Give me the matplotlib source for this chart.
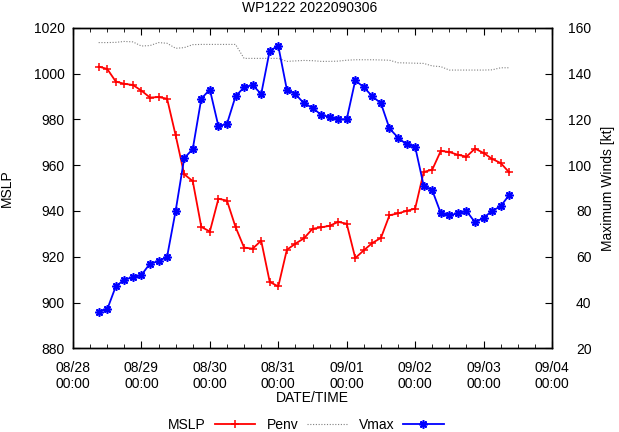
import numpy as np
import pandas as pd
import matplotlib
matplotlib.use('Agg')
import matplotlib.pyplot as plt
import matplotlib.dates as mdates
from matplotlib.ticker import MultipleLocator

title = 'WP1222 2022090306'
times = pd.date_range('2022-08-28 09:00', '2022-09-03 09:00', freq='3h')

mslp = [1003, 1002, 996.5, 995.5, 995, 992.5, 989.5, 989.7, 989,
        973, 956, 953, 933, 931, 945.3, 944.5, 933, 924, 923.5,
        927, 909, 907, 923, 925.7, 928, 932.2, 932.8, 933.5, 935.2,
        934.4, 919.4, 922.8, 926, 928.2, 938.1, 938.9, 940, 941, 957,
        958, 966.2, 965.7, 964.5, 963.7, 967.2, 965.3, 962.7, 960.9, 956.8]

penv = [1013.5, 1013.5, 1013.6, 1014, 1013.8, 1012, 1012.2, 1013.5, 1013.2,
        1011, 1011.3, 1012.6, 1012.7, 1012.7, 1012.7, 1012.7, 1012.7, 1006.6, 1006.6,
        1006.6, 1006.6, 1006.6, 1005.3, 1005.5, 1005.7, 1005.6, 1005.3, 1005.3, 1005.4,
        1005.8, 1006, 1006, 1006, 1005.9, 1005.8, 1004.7, 1004.6, 1004.5, 1004.4,
        1003.3, 1003, 1001.5, 1001.5, 1001.5, 1001.5, 1001.5, 1001.6, 1002.5, 1002.5]

vmax = [36, 37, 47, 50, 51, 52, 57, 58, 60,
        80, 103, 107, 129, 133, 117, 118, 130, 134, 135,
        131, 150, 152, 133, 131, 127, 125, 122, 121, 120,
        120, 137, 134, 130, 127, 116, 112, 109, 108, 91,
        89, 79, 78, 79, 80, 75, 77, 80, 82, 87]

plt.rcParams['font.family'] = ['Liberation Sans', 'DejaVu Sans']
plt.rcParams['font.size'] = 10

W, H = 619, 432
fig = plt.figure(figsize=(W / 100, H / 100), dpi=100)
x0, x1, yt, yb = 73, 552, 27.7, 348.3
ax = fig.add_axes([x0 / W, 1 - yb / H, (x1 - x0) / W, (yb - yt) / H])
ax2 = ax.twinx()

l1, = ax.plot(times, mslp, color='#ff0000', lw=1.3, marker='+', ms=6, mew=1.1, label='MSLP')
l2, = ax.plot(times, penv, color='#808080', lw=0.8, ls=(0, (1, 1.5)), label='Penv')
l3, = ax2.plot(times, vmax, color='#0000ff', lw=1.3, marker=(8, 2, 0), ms=6, mew=1.2, label='Vmax')

ax.set_xlim(pd.Timestamp('2022-08-28'), pd.Timestamp('2022-09-04'))
ax.set_ylim(880, 1020)
ax2.set_ylim(20, 160)
ax.yaxis.set_major_locator(MultipleLocator(20))
ax2.yaxis.set_major_locator(MultipleLocator(20))
ax.xaxis.set_major_locator(mdates.DayLocator())
ax.xaxis.set_minor_locator(mdates.HourLocator(byhour=[6, 12, 18]))
ax.xaxis.set_major_formatter(mdates.DateFormatter('%m/%d\n%H:%M'))

ax.tick_params(axis='x', which='both', direction='in', top=True, bottom=True)
ax.tick_params(axis='x', which='major', length=5, pad=9)
ax.tick_params(axis='x', which='minor', length=3)
ax.tick_params(axis='y', which='both', direction='in', length=5, pad=6, right=False)
ax2.tick_params(axis='y', which='both', direction='in', length=5, pad=28.5)
for t in ax2.yaxis.get_majorticklabels():
    t.set_horizontalalignment('right')

for a in (ax, ax2):
    for s in a.spines.values():
        s.set_linewidth(1.0)

ax.set_xlabel('DATE/TIME')
ax.xaxis.set_label_coords(0.5, (yb - 398) / (yb - yt))
ax.xaxis.label.set_verticalalignment('center')
ax.set_ylabel('MSLP')
ax.yaxis.set_label_coords((7 - x0) / (x1 - x0), 0.5)
ax.yaxis.label.set_verticalalignment('center')
ax2.set_ylabel('Maximum Winds [kt]')
ax2.yaxis.set_label_coords((608 - x0) / (x1 - x0), 0.5)
ax2.yaxis.label.set_verticalalignment('center')

fig.text(310 / W, 1 - 8 / H, title, ha='center', va='center')

fig.legend(handles=[l1, l2, l3], loc='center', bbox_to_anchor=(306 / W, 1 - 425 / H),
           ncol=3, markerfirst=False, frameon=False, handlelength=2.9,
           handletextpad=0.65, columnspacing=0.8, numpoints=1,
           borderpad=0, borderaxespad=0)

fig.savefig('out.png', dpi=100, facecolor='white')
